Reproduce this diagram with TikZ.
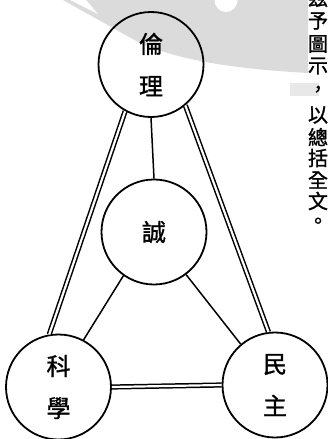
\documentclass[tikz,border=0pt]{standalone}
\usepackage{fontspec}
\newfontfamily\cjk[FakeBold=1.2]{Noto Sans CJK TC}
\begin{document}
\begin{tikzpicture}[x=1pt,y=-1pt,
  bubble/.style={circle,draw=black,line width=1.8pt,minimum size=105pt,inner sep=0pt,
    font=\cjk\fontsize{24}{42}\selectfont,align=center},
  dbl/.style={draw=black,line width=1.5pt,double=white,double distance=2.2pt},
  sgl/.style={draw=black,line width=1.5pt},
  col/.style={font=\cjk\fontsize{20}{20}\selectfont,inner sep=0pt}]
\useasboundingbox (0,0) rectangle (328,439);
% background swoosh
\fill[black!14] (63,0) .. controls (95,18) and (120,32) .. (140,43)
  .. controls (175,58) and (220,68) .. (308,73) -- (308,0) -- cycle;
\fill[white] (70,0) -- (86,0) -- (98,14) -- cycle;
\fill[white] (226,0) ellipse [x radius=11.5, y radius=12];
\fill[black!9] (290,83) rectangle (319,96);
% circles
\node[bubble] (L) at (151,64.5) {倫\\理};
\node[bubble] (C) at (154,232) {誠};
\node[bubble] (K) at (58.5,387) {科\\學};
\node[bubble] (M) at (275,385) {民\\主};
% connectors
\draw[sgl] (L.south) -- (C.north);
\draw[sgl] (C.235) -- (K.62);
\draw[sgl] (C.307) -- (M.130);
\draw[dbl] (L.241) -- (K.100);
\draw[dbl] (L.310) -- (M.97);
\draw[dbl] (K.east) -- (M.west);
% vertical text column
\node[col] (t0) at (318,-2) {茲};
\node[col] (t1) at (318,21) {予};
\node[col] (t2) at (318,44) {圖};
\node[col] (t3) at (318,66) {示};
\node[col] (t4) at (318,91) {，};
\node[col] (t5) at (318,115) {以};
\node[col] (t6) at (318,137) {總};
\node[col] (t7) at (318,158) {括};
\node[col] (t8) at (318,180) {全};
\node[col] (t9) at (318,201) {文};
\node[col] (t10) at (318,223) {。};
\end{tikzpicture}
\end{document}
